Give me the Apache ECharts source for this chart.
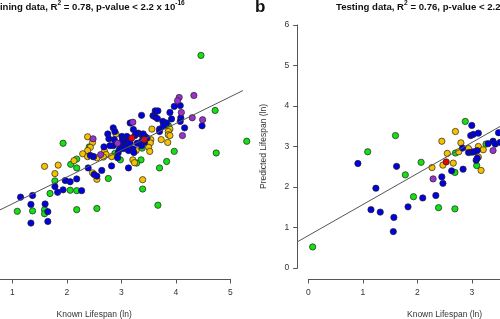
<!DOCTYPE html>
<html>
<head>
<meta charset="utf-8">
<script src="https://cdn.jsdelivr.net/npm/echarts@6/dist/echarts.min.js"></script>
<style>
  html, body { margin: 0; padding: 0; background: #fff; }
  #chart { width: 500px; height: 319px; }
</style>
</head>
<body>
<div id="chart"></div>
<script>
// ---- data (known vs predicted lifespan, ln) ----
const xTicks = [0, 1, 2, 3, 4, 5];
const yTicks = [0, 1, 2, 3, 4, 5, 6];

// training set, left panel
const trainBlue = [[3.97,3.99],[4.08,4.01],[3.62,3.88],[3.67,3.88],[3.89,3.84],[3.37,3.77],[3.58,3.76],[3.62,3.73],[3.66,3.69],[3.92,3.68],[4.09,3.71],[4.08,3.62],[3.76,3.62],[3.83,3.58],[3.77,3.51],[4.48,3.51],[4.16,3.46],[3.70,3.43],[3.70,3.37],[3.16,3.58],[3.22,3.42],[3.31,3.33],[3.37,3.29],[3.25,3.27],[3.43,3.25],[3.40,3.31],[3.47,3.21],[3.10,3.25],[3.01,3.25],[3.04,3.17],[2.85,3.46],[2.88,3.37],[2.75,3.31],[2.77,3.19],[2.87,3.17],[3.01,3.13],[3.06,3.09],[3.10,3.04],[3.13,3.13],[3.16,3.09],[2.85,3.02],[2.68,2.99],[2.79,3.02],[3.42,3.10],[3.37,3.02],[3.21,2.94],[3.23,2.85],[2.98,3.00],[2.96,2.92],[3.04,2.95],[2.94,2.84],[3.13,2.90],[2.93,2.72],[2.43,2.78],[2.49,2.75],[3.13,2.47],[2.82,2.52],[2.39,2.47],[2.64,2.41],[2.50,2.31],[2.55,2.27],[2.18,2.20],[1.97,2.16],[2.06,2.13],[1.78,2.01],[1.83,1.87],[1.93,1.93],[2.27,1.91],[1.37,1.79],[1.15,1.75],[1.34,1.57],[1.60,1.58],[1.65,1.39],[1.34,1.11],[1.65,1.15],[3.27,3.32],[3.29,3.08],[3.37,3.13]];
const trainGreen = [[4.46,5.25],[4.72,3.89],[5.30,3.13],[4.74,2.84],[3.97,2.88],[3.83,2.63],[3.70,2.47],[3.67,1.55],[3.39,1.95],[3.86,3.52],[3.38,2.96],[3.36,2.67],[3.28,2.59],[2.98,2.67],[2.88,2.83],[2.76,2.21],[2.68,2.82],[2.48,2.75],[2.41,2.99],[1.93,3.08],[2.18,2.69],[2.07,2.56],[2.18,2.47],[1.78,2.15],[2.06,1.92],[2.18,1.91],[1.69,1.84],[1.09,1.40],[1.37,1.41],[1.59,1.44],[1.59,1.34],[2.18,1.44],[2.55,1.47]];
const trainGold = [[3.56,3.43],[3.89,3.43],[3.86,3.37],[3.86,3.29],[3.85,3.10],[3.73,3.17],[3.54,3.17],[3.53,3.09],[3.50,2.98],[3.52,2.88],[3.10,3.13],[3.22,2.88],[3.21,2.67],[3.24,2.60],[2.90,3.31],[2.38,3.24],[2.47,3.10],[2.43,2.98],[2.38,2.90],[2.29,2.82],[2.55,2.72],[2.69,2.88],[2.72,2.80],[2.67,2.74],[2.82,2.75],[2.13,2.65],[1.84,2.54],[1.59,2.51],[1.78,2.33],[2.55,2.19],[2.47,2.35],[3.39,2.18],[3.10,3.00],[3.16,2.92],[3.27,2.90],[2.38,2.75],[3.89,3.27]];
const trainPurple = [[4.06,4.21],[4.03,4.13],[4.33,4.26],[4.10,3.84],[4.30,3.71],[4.49,3.66],[4.12,3.27],[3.21,3.60],[2.48,3.19],[2.93,3.08],[2.62,2.80]];
const trainRed = [[3.19,3.21],[3.42,3.17]];

// testing set, right panel
const testBlue = [[0.91,2.58],[1.62,2.51],[1.24,1.97],[1.15,1.44],[1.32,1.38],[1.57,1.25],[1.83,1.51],[1.56,0.90],[3.00,3.52],[2.98,3.27],[3.03,3.30],[3.12,3.33],[3.49,3.34],[2.83,2.96],[2.94,2.85],[3.00,2.86],[3.04,2.87],[3.10,2.90],[3.30,3.07],[3.39,3.13],[3.43,3.06],[3.52,3.10],[3.08,2.66],[3.10,2.71],[2.63,2.40],[2.84,2.44],[2.45,2.25],[2.47,2.09],[2.10,1.73],[2.34,1.79]];
const testGreen = [[1.60,3.27],[1.09,2.87],[1.78,2.30],[0.08,0.52],[2.88,3.62],[3.26,3.06],[2.07,2.61],[2.70,2.84],[2.69,2.36],[3.09,2.53],[1.93,1.76],[2.39,1.49],[2.69,1.46]];
const testGold = [[2.70,3.37],[2.45,3.13],[2.80,3.09],[2.76,2.87],[2.55,2.83],[2.94,2.95],[3.12,3.00],[3.21,2.92],[3.12,2.74],[3.17,2.41],[2.47,2.54],[2.66,2.59],[2.27,2.48]];
const testPurple = [[3.39,2.90],[2.29,2.20]];
const testRed = [[2.53,2.62]];

// fitted lines (intercept, slope) and the x span of each plot region
const trainFit = { a: 0.924, b: 0.661, from: -0.22, to: 5.23 };
const testFit = { a: 0.80, b: 0.766, from: -0.19, to: 5.26 };

const FONT = 'Liberation Sans, Arial, sans-serif';
const colors = { blue: '#0000e0', green: '#14e014', gold: '#f6c200', purple: '#9a32cd', red: '#ee0000' };

// panel geometry: axis 0..5 drawn over 272.5 px, y 0..6 over 243 px
const PANEL_W = 272.5, PANEL_TOP = 25, PANEL_H = 243;
const leftX0 = -42.1, rightX0 = 308.3;
const pxPerUnit = PANEL_W / (xTicks[xTicks.length - 1] - xTicks[0]);

const chart = echarts.init(document.getElementById('chart'), null, { renderer: 'canvas' });

function fitLine(f) {
  return [[f.from, f.a + f.b * f.from], [f.to, f.a + f.b * f.to]];
}

function pts(data, color, idx) {
  return {
    type: 'scatter', xAxisIndex: idx, yAxisIndex: idx, data: data,
    symbolSize: 6.3, clip: false,
    itemStyle: { color: color, borderColor: '#222', borderWidth: 0.7, opacity: 1 }
  };
}

function xAx(idx) {
  return {
    type: 'value', gridIndex: idx,
    min: xTicks[0], max: xTicks[xTicks.length - 1], interval: 1,
    offset: 11,
    axisLine: { show: true, onZero: false, lineStyle: { color: '#555', width: 1 } },
    axisTick: { show: true, length: 4.5, lineStyle: { color: '#555', width: 1 } },
    axisLabel: { margin: 9, fontSize: 8.5, color: '#333', fontFamily: FONT },
    splitLine: { show: false },
    name: 'Known Lifespan (ln)', nameLocation: 'middle', nameGap: 31,
    nameTextStyle: { fontSize: 8.5, color: '#333', fontFamily: FONT }
  };
}

// hidden axes spanning the whole plot region, used for the fitted lines
function fitGrid(x0, f) {
  return { left: x0 + f.from * pxPerUnit, top: PANEL_TOP, width: (f.to - f.from) * pxPerUnit, height: PANEL_H,
           containLabel: false, outerBoundsMode: 'none' };
}
function hiddenX(idx, f) { return { type: 'value', gridIndex: idx, min: f.from, max: f.to, show: false }; }
function hiddenY(idx) { return { type: 'value', gridIndex: idx, min: yTicks[0], max: yTicks[yTicks.length - 1], show: false }; }

const richTitle = {
  t: { fontFamily: FONT, fontSize: 9.6, fontWeight: 'bold', color: '#111', lineHeight: 14 },
  s: { fontFamily: FONT, fontSize: 6.6, fontWeight: 'bold', color: '#111', verticalAlign: 'top' }
};

const option = {
  animation: false,
  backgroundColor: '#fff',
  title: [
    { text: '{t|Training data, R}{s|2}{t| = 0.78, p-value < 2.2 x 10}{s|-16}', left: -14.5, top: 0, padding: 0, textStyle: { rich: richTitle } },
    { text: 'b', left: 255, top: -1, padding: 0, textStyle: { fontFamily: FONT, fontSize: 17, fontWeight: 'bold', color: '#111' } },
    { text: '{t|Testing data, R}{s|2}{t| = 0.76, p-value < 2.2 x 10}{s|-16}', left: 336, top: 0, padding: 0, textStyle: { rich: richTitle } }
  ],
  grid: [
    { left: leftX0, top: PANEL_TOP, width: PANEL_W, height: PANEL_H, containLabel: false, outerBoundsMode: 'none' },
    { left: rightX0, top: PANEL_TOP, width: PANEL_W, height: PANEL_H, containLabel: false, outerBoundsMode: 'none' },
    fitGrid(leftX0, trainFit),
    fitGrid(rightX0, testFit)
  ],
  xAxis: [xAx(0), xAx(1), hiddenX(2, trainFit), hiddenX(3, testFit)],
  yAxis: [
    { type: 'value', gridIndex: 0, min: yTicks[0], max: yTicks[yTicks.length - 1], interval: 1, show: false },
    {
      type: 'value', gridIndex: 1, min: yTicks[0], max: yTicks[yTicks.length - 1], interval: 1,
      offset: 10.6,
      axisLine: { show: true, onZero: false, lineStyle: { color: '#555', width: 1 } },
      axisTick: { show: true, length: 4.5, lineStyle: { color: '#555', width: 1 } },
      axisLabel: { margin: 8.5, fontSize: 8.5, color: '#333', fontFamily: FONT },
      splitLine: { show: false },
      name: 'Predicted Lifespan (ln)', nameLocation: 'middle', nameGap: 30, nameRotate: 90,
      nameTextStyle: { fontSize: 8.5, color: '#333', fontFamily: FONT }
    },
    hiddenY(2),
    hiddenY(3)
  ],
  series: [
    pts(trainGreen, colors.green, 0),
    pts(trainGold, colors.gold, 0),
    pts(trainBlue, colors.blue, 0),
    pts(trainPurple, colors.purple, 0),
    pts(trainRed, colors.red, 0),
    pts(testGreen, colors.green, 1),
    pts(testGold, colors.gold, 1),
    pts(testBlue, colors.blue, 1),
    pts(testPurple, colors.purple, 1),
    pts(testRed, colors.red, 1),
    { type: 'line', xAxisIndex: 2, yAxisIndex: 2, data: fitLine(trainFit), showSymbol: false,
      lineStyle: { color: '#555', width: 1 }, silent: true, z: 3 },
    { type: 'line', xAxisIndex: 3, yAxisIndex: 3, data: fitLine(testFit), showSymbol: false,
      lineStyle: { color: '#555', width: 1 }, silent: true, z: 3 }
  ]
};

chart.setOption(option);
</script>
</body>
</html>
